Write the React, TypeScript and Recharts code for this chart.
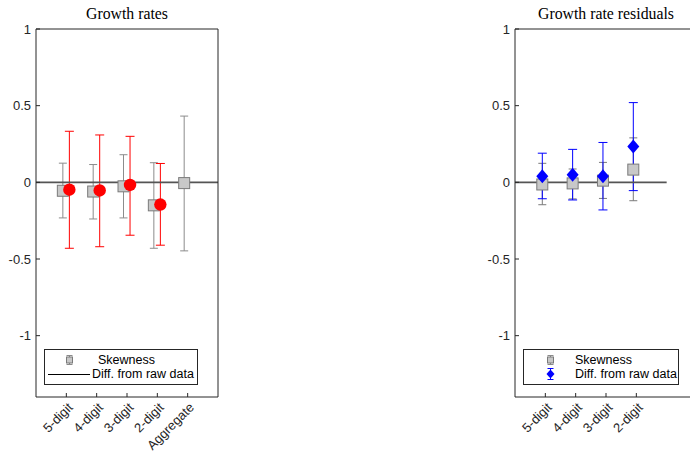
import React from 'react';
import { ComposedChart, Scatter, XAxis, YAxis, ErrorBar, ReferenceLine } from 'recharts';

// ---------- data ----------
const leftCategories = ['5-digit', '4-digit', '3-digit', '2-digit', 'Aggregate'];
const leftSkewMid = [-0.055, -0.06, -0.026, -0.15, -0.005];
const leftSkewLow = [-0.232, -0.239, -0.232, -0.43, -0.447];
const leftSkewHigh = [0.125, 0.116, 0.18, 0.128, 0.432];
const leftDiffMid = [-0.048, -0.053, -0.017, -0.145];
const leftDiffLow = [-0.43, -0.42, -0.345, -0.41];
const leftDiffHigh = [0.333, 0.309, 0.3, 0.123];

const rightCategories = ['5-digit', '4-digit', '3-digit', '2-digit'];
const rightSkewMid = [-0.014, -0.007, 0.011, 0.083];
const rightSkewLow = [-0.146, -0.108, -0.105, -0.12];
const rightSkewHigh = [0.124, 0.087, 0.13, 0.29];
const rightDiffMid = [0.04, 0.05, 0.04, 0.233];
const rightDiffLow = [-0.107, -0.115, -0.18, -0.054];
const rightDiffHigh = [0.19, 0.215, 0.26, 0.52];

const yTicks = [-1, -0.5, 0, 0.5, 1];
const leftTitle = 'Growth rates';
const rightTitle = 'Growth rate residuals';
const legendLabels = ['Skewness', 'Diff. from raw data'];

// ---------- helpers ----------
const build = (mid: number[], lo: number[], hi: number[], shift: number) =>
  mid.map((v, i) => ({ x: i + 1 + shift, y: v, err: [v - lo[i], hi[i] - v] }));

const AX = '#262626';
const SANS = '"Liberation Sans", Arial, Helvetica, sans-serif';
const SERIF = '"Liberation Serif", "Times New Roman", serif';

const Square = (p: any) => (
  <rect x={p.cx - 5.5} y={p.cy - 5.5} width={11} height={11} fill="#c8c8c8" stroke="#7a7a7a" strokeWidth={1} />
);
const Dot = (p: any) => <circle cx={p.cx} cy={p.cy} r={6.2} fill="#ff0000" />;
const Diamond = (p: any) => (
  <polygon
    points={`${p.cx},${p.cy - 7} ${p.cx + 6},${p.cy} ${p.cx},${p.cy + 7} ${p.cx - 6},${p.cy}`}
    fill="#0000ff"
  />
);
const Nothing = () => <g />;

const makeTick = (labels: string[]) => (props: any) => {
  const { x, y, payload } = props;
  const label = labels[Math.round(payload.value) - 1];
  const tx = x + 4;
  const ty = y;
  return (
    <text
      x={tx}
      y={ty}
      transform={`rotate(-45 ${tx} ${ty})`}
      textAnchor="end"
      fontSize={13}
      fontFamily={SANS}
      fill={AX}
      dy="0.35em"
    >
      {label}
    </text>
  );
};

const yTickStyle = { fontSize: 13, fontFamily: SANS, fill: AX };

type PanelProps = {
  left: number;
  categories: string[];
  zeroEnd: number;
  children: React.ReactNode;
  topTicks: number[];
};

const Panel = ({ left, categories, zeroEnd, children, topTicks }: PanelProps) => {
  const xt = categories.map((_, i) => i + 1);
  return (
    <div style={{ position: 'absolute', left, top: 0 }}>
      <ComposedChart width={240} height={455} margin={{ top: 19, right: 12, bottom: 0, left: 0 }}>
        <XAxis
          xAxisId="b"
          type="number"
          dataKey="x"
          domain={[0, 6]}
          ticks={xt}
          allowDataOverflow
          interval={0}
          height={58}
          tickSize={-4}
          tickMargin={12}
          stroke={AX}
          tick={makeTick(categories)}
        />
        <XAxis
          xAxisId="t"
          orientation="top"
          type="number"
          dataKey="x"
          domain={[0, 6]}
          ticks={topTicks}
          allowDataOverflow
          interval={0}
          height={10}
          tickSize={-4}
          stroke={AX}
          tick={false}
        />
        <YAxis
          yAxisId="l"
          type="number"
          dataKey="y"
          domain={[-1.4, 1]}
          ticks={yTicks}
          allowDataOverflow
          interval={0}
          width={36}
          tickSize={-4}
          tickMargin={9}
          stroke={AX}
          tick={yTickStyle}
        />
        <YAxis
          yAxisId="r"
          orientation="right"
          type="number"
          dataKey="y"
          domain={[-1.4, 1]}
          ticks={yTicks}
          allowDataOverflow
          interval={0}
          width={10}
          tickSize={-4}
          stroke={AX}
          tick={false}
        />
        <Scatter
          xAxisId="t"
          yAxisId="r"
          data={[{ x: 1, y: 0 }]}
          dataKey="y"
          shape={Nothing}
          legendType="none"
          isAnimationActive={false}
        />
        {children}
        <ReferenceLine
          xAxisId="b"
          yAxisId="l"
          segment={[{ x: 0, y: 0 }, { x: zeroEnd, y: 0 }]}
          stroke="#555555"
          strokeWidth={1.6}
          ifOverflow="extendDomain"
        />
      </ComposedChart>
    </div>
  );
};

const GrayIcon = ({ x, y }: { x: number; y: number }) => (
  <g>
    <line x1={x} x2={x} y1={y - 4.5} y2={y + 4.5} stroke="#8a8a8a" />
    <line x1={x - 3} x2={x + 3} y1={y - 4.5} y2={y - 4.5} stroke="#8a8a8a" />
    <line x1={x - 3} x2={x + 3} y1={y + 4.5} y2={y + 4.5} stroke="#8a8a8a" />
    <rect x={x - 3} y={y - 3} width={6} height={6} fill="#c8c8c8" stroke="#7a7a7a" />
  </g>
);
const BlueIcon = ({ x, y }: { x: number; y: number }) => (
  <g>
    <line x1={x} x2={x} y1={y - 5.5} y2={y + 5.5} stroke="#0000ff" />
    <line x1={x - 3} x2={x + 3} y1={y - 5.5} y2={y - 5.5} stroke="#0000ff" />
    <line x1={x - 3} x2={x + 3} y1={y + 5.5} y2={y + 5.5} stroke="#0000ff" />
    <polygon points={`${x},${y - 4.5} ${x + 4},${y} ${x},${y + 4.5} ${x - 4},${y}`} fill="#0000ff" />
  </g>
);

const Legend = ({ left, width, kind }: { left: number; width: number; kind: 'line' | 'blue' }) => (
  <svg
    style={{ position: 'absolute', left, top: 349 }}
    width={width + 1}
    height={37}
  >
    <rect x={0.5} y={0.5} width={width} height={35} fill="#ffffff" stroke={AX} strokeWidth={1} />
    {kind === 'line' ? (
      <>
        <GrayIcon x={25.5} y={11} />
        <text x={54} y={11} dy="0.35em" fontSize={12.5} fontFamily={SANS} fill="#000">{legendLabels[0]}</text>
        <line x1={4} x2={46} y1={25.5} y2={25.5} stroke="#000" strokeWidth={1} />
        <text x={48} y={25} dy="0.35em" fontSize={12.5} fontFamily={SANS} fill="#000">{legendLabels[1]}</text>
      </>
    ) : (
      <>
        <GrayIcon x={27.5} y={11} />
        <text x={52} y={11} dy="0.35em" fontSize={12.5} fontFamily={SANS} fill="#000">{legendLabels[0]}</text>
        <BlueIcon x={27.5} y={25} />
        <text x={52} y={25} dy="0.35em" fontSize={12.5} fontFamily={SANS} fill="#000">{legendLabels[1]}</text>
      </>
    )}
  </svg>
);

const titleStyle = (center: number): React.CSSProperties => ({
  position: 'absolute',
  left: center - 100,
  width: 200,
  top: 5,
  textAlign: 'center',
  fontFamily: SERIF,
  fontSize: 15.8,
  color: '#000',
  lineHeight: '18px',
});

export default function App() {
  const leftSkew = build(leftSkewMid, leftSkewLow, leftSkewHigh, -0.115);
  const leftDiff = build(leftDiffMid, leftDiffLow, leftDiffHigh, 0.1);
  const rightSkew = build(rightSkewMid, rightSkewLow, rightSkewHigh, -0.1);
  const rightDiff = build(rightDiffMid, rightDiffLow, rightDiffHigh, -0.1);

  return (
    <div
      style={{
        position: 'absolute',
        left: 0,
        top: 0,
        width: 690,
        height: 455,
        overflow: 'hidden',
        background: '#ffffff',
      }}
    >
      <Panel left={0} categories={leftCategories} zeroEnd={6} topTicks={[1, 2, 3, 4, 5]}>
        <Scatter
          xAxisId="b"
          yAxisId="l"
          data={leftSkew}
          dataKey="y"
          shape={Square}
          isAnimationActive={false}
        >
          <ErrorBar dataKey="err" direction="y" width={4} stroke="#8c8c8c" strokeWidth={1} />
        </Scatter>
        <Scatter
          xAxisId="b"
          yAxisId="l"
          data={leftDiff}
          dataKey="y"
          shape={Dot}
          isAnimationActive={false}
        >
          <ErrorBar dataKey="err" direction="y" width={4.5} stroke="#ff0000" strokeWidth={1} />
        </Scatter>
      </Panel>
      <Panel left={479} categories={rightCategories} zeroEnd={5} topTicks={[1, 2, 3, 4]}>
        <Scatter
          xAxisId="b"
          yAxisId="l"
          data={rightSkew}
          dataKey="y"
          shape={Square}
          isAnimationActive={false}
        >
          <ErrorBar dataKey="err" direction="y" width={4} stroke="#7a7a7a" strokeWidth={1} />
        </Scatter>
        <Scatter
          xAxisId="b"
          yAxisId="l"
          data={rightDiff}
          dataKey="y"
          shape={Diamond}
          isAnimationActive={false}
        >
          <ErrorBar dataKey="err" direction="y" width={4.5} stroke="#0000ff" strokeWidth={1} />
        </Scatter>
      </Panel>
      <div style={titleStyle(127)}>{leftTitle}</div>
      <div style={titleStyle(606)}>{rightTitle}</div>
      <Legend left={44} width={153} kind="line" />
      <Legend left={523} width={155} kind="blue" />
    </div>
  );
}
